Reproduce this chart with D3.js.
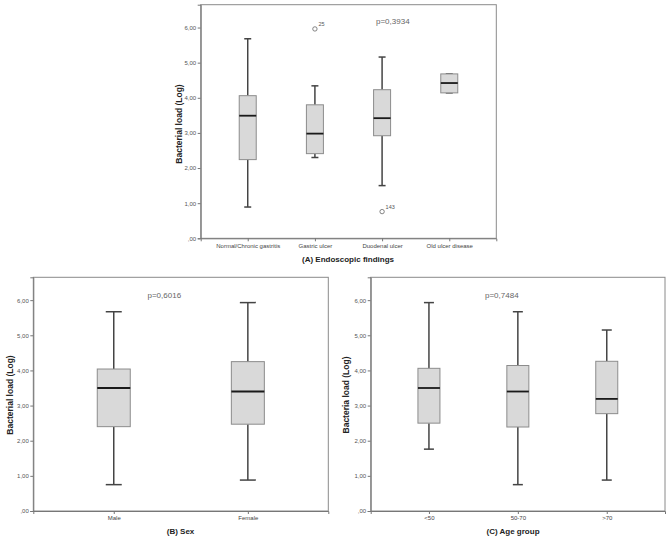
<!DOCTYPE html>
<html><head><meta charset="utf-8">
<script src="https://cdn.jsdelivr.net/npm/d3@7"></script>
<style>body{margin:0;background:#fff}svg{display:block}</style>
</head><body>
<svg id="c" width="672" height="540"></svg>
<script>
// Panel A: Endoscopic findings
const catsA = ["Normal/Chronic gastritis","Gastric ulcer","Duodenal ulcer","Old ulcer disease"];
const minA = [0.89, 2.30, 1.50, 4.14];
const q1A  = [2.24, 2.41, 2.92, 4.14];
const medA = [3.49, 2.98, 3.42, 4.42];
const q3A  = [4.06, 3.80, 4.23, 4.68];
const maxA = [5.68, 4.34, 5.16, 4.68];
const outA = [{cat:"Gastric ulcer", v:5.96, label:"25"},{cat:"Duodenal ulcer", v:0.76, label:"143"}];
// Panel B: Sex
const catsB = ["Male","Female"];
const minB = [0.75, 0.88];
const q1B  = [2.40, 2.47];
const medB = [3.50, 3.40];
const q3B  = [4.04, 4.25];
const maxB = [5.67, 5.93];
// Panel C: Age group
const catsC = ["<50","50-70",">70"];
const minC = [1.76, 0.75, 0.88];
const q1C  = [2.50, 2.39, 2.77];
const medC = [3.50, 3.40, 3.19];
const q3C  = [4.06, 4.14, 4.26];
const maxC = [5.93, 5.67, 5.15];
const yTicks = [0,1,2,3,4,5,6];
const yLabels = [",00","1,00","2,00","3,00","4,00","5,00","6,00"];

const svg = d3.select("#c");
const fmt = v => yLabels[yTicks.indexOf(v)];

function panel(o){
  const g = svg.append("g");
  const x = d3.scalePoint().domain(o.cats).range([o.x0,o.x1]).padding(o.pad);
  const y = d3.scaleLinear().domain([0,6.65]).range([o.y1,o.y0]);
  // frame
  g.append("rect").attr("x",o.x0).attr("y",o.y0).attr("width",o.x1-o.x0).attr("height",o.y1-o.y0)
    .attr("fill","none").attr("stroke","#8a8a8a").attr("stroke-width",1);
  const ya = g.append("g").attr("transform",`translate(${o.x0},0)`)
    .call(d3.axisLeft(y).tickValues(yTicks).tickFormat(fmt).tickSize(3).tickPadding(1.5));
  ya.select(".domain").attr("stroke","#777");
  ya.selectAll("line").attr("stroke","#777");
  ya.selectAll("text").attr("font-family","Arial, Liberation Sans, sans-serif").attr("font-size",6).attr("fill","#555");
  const xa = g.append("g").attr("transform",`translate(0,${o.y1})`)
    .call(d3.axisBottom(x).tickSize(3).tickPadding(2));
  xa.select(".domain").attr("stroke","#777");
  xa.selectAll("line").attr("stroke","#777");
  xa.selectAll("text").attr("font-family","Arial, Liberation Sans, sans-serif").attr("font-size",6).attr("fill","#444");
  const bw = o.bw, cw = o.cw;
  o.cats.forEach((c,i)=>{
    const cx = x(c);
    // whiskers
    g.append("line").attr("x1",cx).attr("x2",cx).attr("y1",y(o.max[i])).attr("y2",y(o.q3[i])).attr("stroke","#444").attr("stroke-width",1.5);
    g.append("line").attr("x1",cx).attr("x2",cx).attr("y1",y(o.q1[i])).attr("y2",y(o.min[i])).attr("stroke","#444").attr("stroke-width",1.5);
    g.append("line").attr("x1",cx-cw/2).attr("x2",cx+cw/2).attr("y1",y(o.max[i])).attr("y2",y(o.max[i])).attr("stroke","#444").attr("stroke-width",1.5);
    g.append("line").attr("x1",cx-cw/2).attr("x2",cx+cw/2).attr("y1",y(o.min[i])).attr("y2",y(o.min[i])).attr("stroke","#444").attr("stroke-width",1.5);
    g.append("rect").attr("x",cx-bw/2).attr("y",y(o.q3[i])).attr("width",bw).attr("height",y(o.q1[i])-y(o.q3[i]))
      .attr("fill","#d9d9d9").attr("stroke","#8c8c8c").attr("stroke-width",1);
    g.append("line").attr("x1",cx-bw/2).attr("x2",cx+bw/2).attr("y1",y(o.med[i])).attr("y2",y(o.med[i])).attr("stroke","#1a1a1a").attr("stroke-width",1.8);
  });
  (o.out||[]).forEach(d=>{
    g.append("circle").attr("cx",x(d.cat)).attr("cy",y(d.v)).attr("r",2.2).attr("fill","#fff").attr("stroke","#666").attr("stroke-width",0.8);
    g.append("text").attr("x",x(d.cat)+3.5).attr("y",y(d.v)-2.5).text(d.label)
      .attr("font-family","Arial, Liberation Sans, sans-serif").attr("font-size",5.5).attr("fill","#555");
  });
  g.append("text").attr("x",o.px).attr("y",o.py).text(o.p)
    .attr("font-family","Arial, Liberation Sans, sans-serif").attr("font-size",8).attr("fill","#666");
  g.append("text").attr("transform",`translate(${o.ylx},${o.yly}) rotate(-90)`).attr("text-anchor","middle")
    .attr("dominant-baseline","central").text(o.ylab)
    .attr("font-family","Arial, Liberation Sans, sans-serif").attr("font-size",8.5).attr("font-weight","bold").attr("fill","#222");
  g.append("text").attr("x",o.tx).attr("y",o.ty).attr("text-anchor","middle").attr("dominant-baseline","central").text(o.title)
    .attr("font-family","Arial, Liberation Sans, sans-serif").attr("font-size",8).attr("font-weight","bold").attr("fill","#222");
}

panel({cats:catsA,min:minA,q1:q1A,med:medA,q3:q3A,max:maxA,out:outA,
  x0:200.7,x1:496.3,y0:4.7,y1:238.3,pad:0.7,bw:17,cw:7,
  p:"p=0,3934",px:376,py:23.5,ylab:"Bacterial load (Log)",ylx:179,yly:124,
  title:"(A) Endoscopic findings",tx:348,ty:259});
panel({cats:catsB,min:minB,q1:q1B,med:medB,q3:q3B,max:maxB,
  x0:33.3,x1:328.3,y0:277.3,y1:511,pad:0.6,bw:33,cw:16,
  p:"p=0,6016",px:147.5,py:297.5,ylab:"Bacterial load (Log)",ylx:10,yly:395,
  title:"(B) Sex",tx:180.5,ty:531.7});
panel({cats:catsC,min:minC,q1:q1C,med:medC,q3:q3C,max:maxC,
  x0:370.7,x1:665,y0:277.3,y1:511,pad:0.655,bw:22,cw:10,
  p:"p=0,7484",px:485,py:297.5,ylab:"Bacteria load (Log)",ylx:345.5,yly:395,
  title:"(C) Age group",tx:513,ty:531.7});
</script>
</body></html>
